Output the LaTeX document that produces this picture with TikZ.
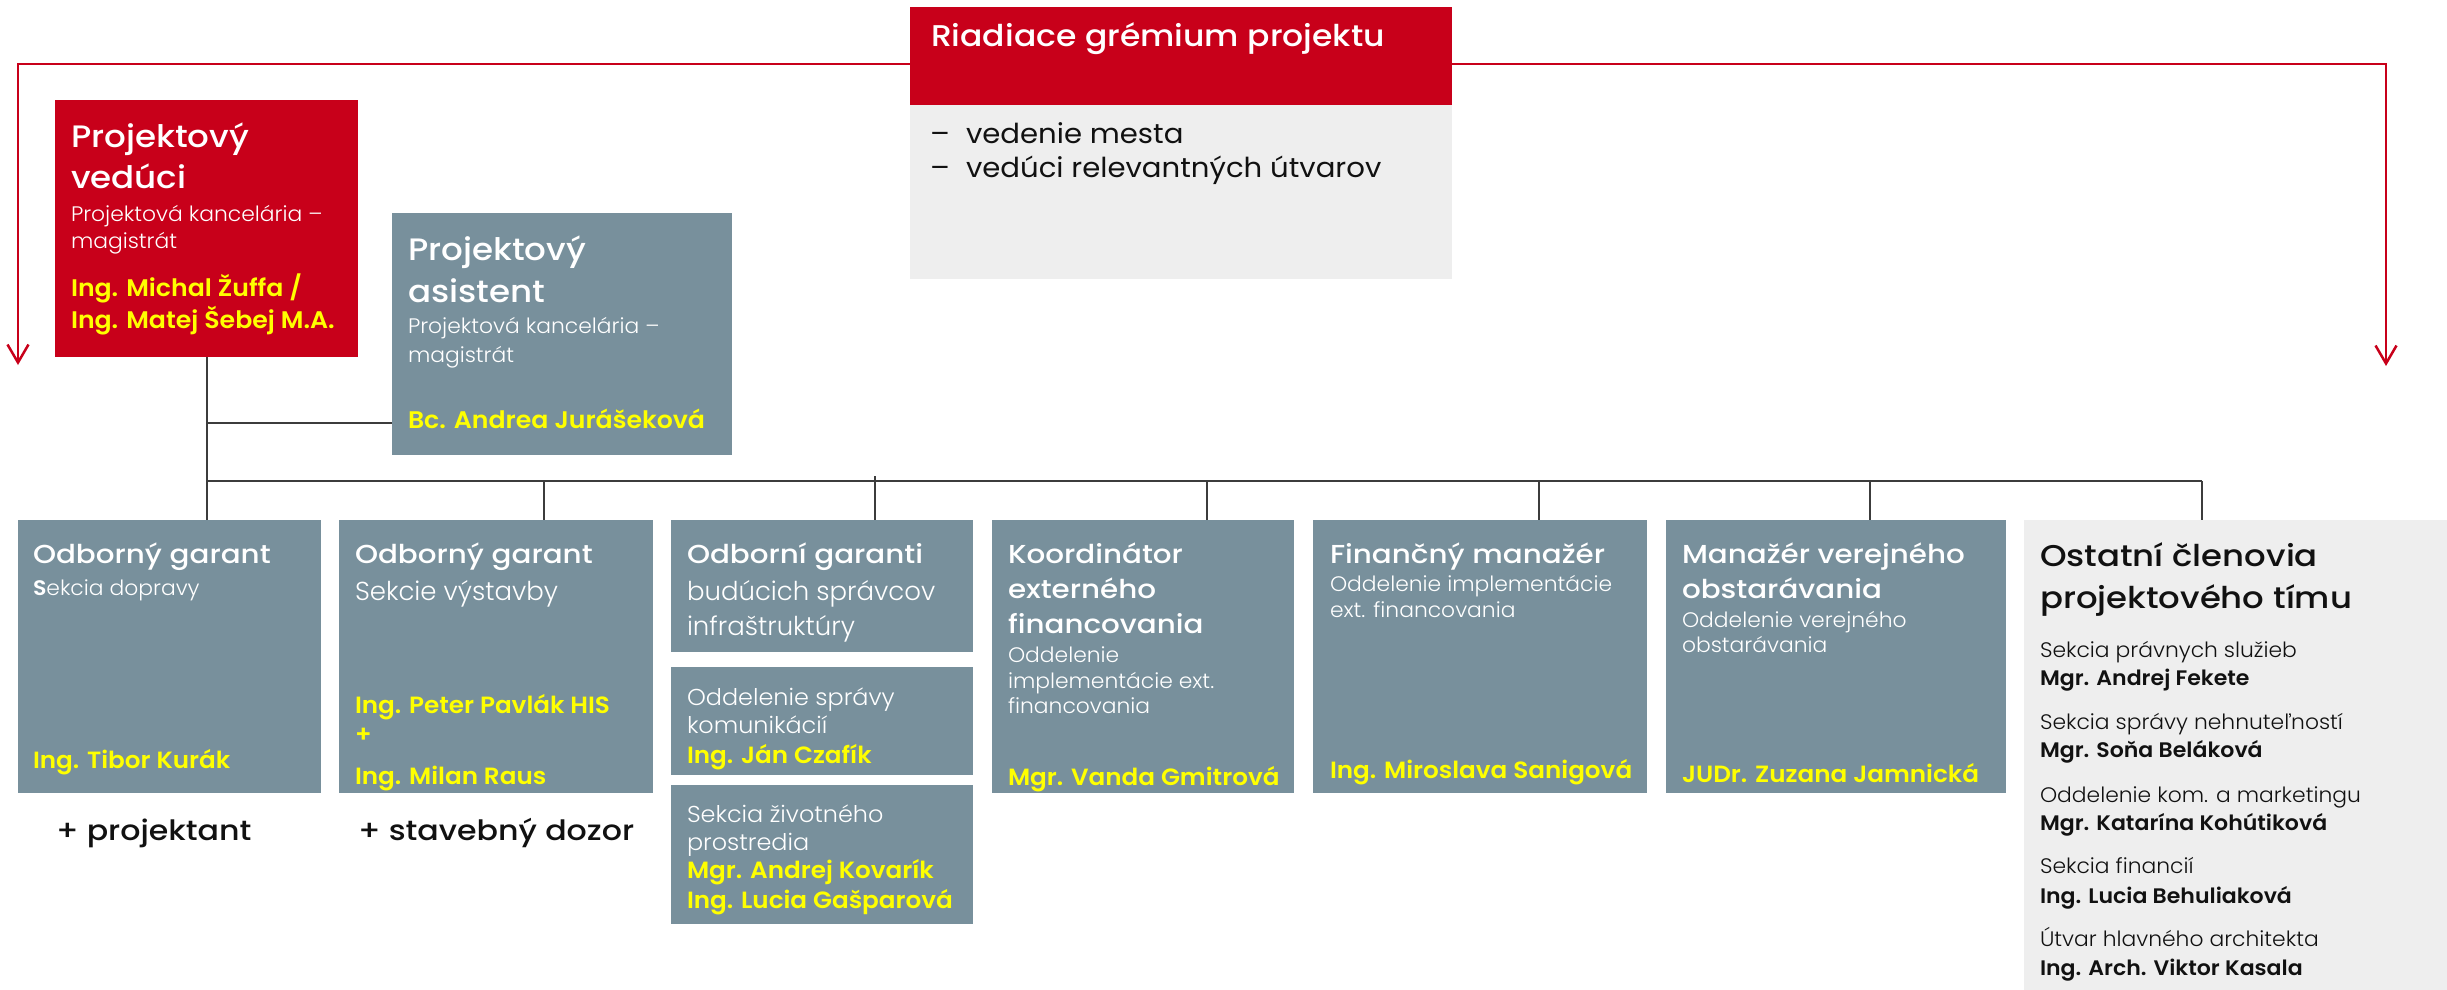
\documentclass[tikz,border=0pt]{standalone}
\usepackage{fontspec}
\setmainfont{Poppins}
\newfontfamily\fR{Poppins}[FakeStretch=1.06]
\newfontfamily\fL{Poppins Light}
\newfontfamily\fLs{Poppins Light}[FakeStretch=1.04]
\newfontfamily\fMs{Poppins Medium}[FakeStretch=1.13]
\newfontfamily\fMt{Poppins Medium}[FakeStretch=1.10]
\newfontfamily\fSs{Poppins SemiBold}[FakeStretch=1.05]
\usetikzlibrary{arrows.meta}
\definecolor{cred}{HTML}{C8001A}
\definecolor{cgrey}{HTML}{78909C}
\definecolor{clight}{HTML}{EEEEEE}
\definecolor{cyel}{HTML}{FFFF00}
\definecolor{cline}{HTML}{3C3C3C}
\definecolor{ctext}{HTML}{111111}
\begin{document}
\begin{tikzpicture}[x=1pt,y=-1pt,
  box/.style={anchor=north west,inner sep=0pt,outer sep=0pt,draw=none},
  txt/.style={anchor=base west,inner sep=0pt,outer sep=0pt},
  htitle/.style={txt,text=white,font=\fMt\fontsize{30}{36}\selectfont},
  hbig/.style={txt,text=white,font=\fMt\fontsize{31}{37}\selectfont},
  hmid/.style={txt,text=white,font=\fMs\fontsize{26}{31}\selectfont},
  sub21/.style={txt,text=white,font=\fLs\fontsize{21}{25}\selectfont},
  sub26/.style={txt,text=white,font=\fL\fontsize{26}{31}\selectfont},
  sub22/.style={txt,text=white,font=\fLs\fontsize{23}{27}\selectfont},
  sub20/.style={txt,text=white,font=\fLs\fontsize{21}{25}\selectfont},
  nm24/.style={txt,text=cyel,font=\fSs\fontsize{24}{29}\selectfont},
  nm22/.style={txt,text=cyel,font=\fSs\fontsize{23.5}{28}\selectfont},
  plus/.style={txt,text=ctext,font=\fMs\fontsize{28}{34}\selectfont},
  oh/.style={txt,text=ctext,font=\fMs\fontsize{30}{36}\selectfont},
  ol/.style={txt,text=ctext,font=\fLs\fontsize{21}{25}\selectfont},
  on/.style={txt,text=ctext,font=\fSs\fontsize{21}{25}\selectfont},
  bl/.style={txt,text=ctext,font=\fR\fontsize{27.5}{33}\selectfont},
  conn/.style={draw=cline,line width=2pt},
  rconn/.style={draw=cred,line width=2.5pt,-{Straight Barb[length=18pt,width=21pt,line width=2.5pt]}}
]
\useasboundingbox (0,0) rectangle (2447,990);

% ---------- boxes ----------
\node[box,fill=cred,minimum width=542pt,minimum height=98pt] (rg) at (910,7) {};
\node[box,fill=clight,minimum width=542pt,minimum height=174pt] (rgl) at (910,105) {};
\node[box,fill=cred,minimum width=303pt,minimum height=257pt] (pv) at (55,100) {};
\node[box,fill=cgrey,minimum width=340pt,minimum height=242pt] (pa) at (392,213) {};
\node[box,fill=cgrey,minimum width=303pt,minimum height=273pt] (b1) at (18,520) {};
\node[box,fill=cgrey,minimum width=314pt,minimum height=273pt] (b2) at (339,520) {};
\node[box,fill=cgrey,minimum width=302pt,minimum height=132pt] (b3a) at (671,520) {};
\node[box,fill=cgrey,minimum width=302pt,minimum height=108pt] (b3b) at (671,667) {};
\node[box,fill=cgrey,minimum width=302pt,minimum height=139pt] (b3c) at (671,785) {};
\node[box,fill=cgrey,minimum width=302pt,minimum height=273pt] (b4) at (992,520) {};
\node[box,fill=cgrey,minimum width=334pt,minimum height=273pt] (b5) at (1313,520) {};
\node[box,fill=cgrey,minimum width=340pt,minimum height=273pt] (b6) at (1666,520) {};
\node[box,fill=clight,minimum width=423pt,minimum height=470pt] (b7) at (2024,520) {};

% ---------- connectors ----------
\coordinate (ry) at (0,64);
\coordinate (aL) at (18,365);
\coordinate (aR) at (2386,366);
\draw[rconn] (rg.west |- ry) -- (aL |- ry) -- (aL);
\draw[rconn] (rg.east |- ry) -- (aR |- ry) -- (aR);

\coordinate (d1) at (207,481);
\coordinate (d2) at (544,481);
\coordinate (d3) at (875,481);
\coordinate (d3t) at (875,476);
\coordinate (d4) at (1207,481);
\coordinate (d5) at (1539,481);
\coordinate (d6) at (1870,481);
\coordinate (d7) at (2202,481);
\coordinate (br) at (207,423);
\draw[conn] (d1 |- pv.south) -- (d1 |- b1.north);
\draw[conn] (br) -- (br -| pa.west);
\draw[conn] (d1) -- (d7);
\draw[conn] (d2) -- (d2 |- b2.north);
\draw[conn] (d3t) -- (d3 |- b3a.north);
\draw[conn] (d4) -- (d4 |- b4.north);
\draw[conn] (d5) -- (d5 |- b5.north);
\draw[conn] (d6) -- (d6 |- b6.north);
\draw[conn] (d7) -- (d7 |- b7.north);

% ---------- texts ----------
\node[htitle] (t0) at (931,47) {Riadiace grémium projektu};
\node[bl] (t1a) at (930,143) {–};
\node[bl] (t1b) at (966,143) {vedenie mesta};
\node[bl] (t2a) at (930,177) {–};
\node[bl] (t2b) at (966,177) {vedúci relevantných útvarov};

\node[hbig] (pv1) at (71,147) {Projektový};
\node[hbig] (pv2) at (71,188) {vedúci};
\node[sub21] (pv3) at (71,221) {Projektová kancelária –};
\node[sub21] (pv4) at (71,248) {magistrát};
\node[nm24] (pv5) at (71,296) {Ing. Michal Žuffa /};
\node[nm24] (pv6) at (71,328) {Ing. Matej Šebej M.A.};

\node[hbig] (pa1) at (408,260) {Projektový};
\node[hbig] (pa2) at (408,302) {asistent};
\node[sub21] (pa3) at (408,333) {Projektová kancelária –};
\node[sub21] (pa4) at (408,362) {magistrát};
\node[nm24] (pa5) at (408,428) {Bc. Andrea Jurášeková};

\node[hmid] (b1t1) at (33,563) {Odborný garant};
\node[sub21] (b1t2) at (33,595) {{\fSs S}ekcia dopravy};
\node[nm22] (b1t3) at (33,768) {Ing. Tibor Kurák};
\node[plus] (p1) at (56,840) {+ projektant};

\node[hmid] (b2t1) at (355,563) {Odborný garant};
\node[sub26] (b2t2) at (355,600) {Sekcie výstavby};
\node[nm22] (b2t3) at (355,713) {Ing. Peter Pavlák HIS};
\node[nm22] (b2t4) at (355,742) {+};
\node[nm22] (b2t5) at (355,784) {Ing. Milan Raus};
\node[plus] (p2) at (358,840) {+ stavebný dozor};

\node[hmid] (b3t1) at (687,563) {Odborní garanti};
\node[sub26] (b3t2) at (687,600) {budúcich správcov};
\node[sub26] (b3t3) at (687,635) {infraštruktúry};
\node[sub22] (b3t4) at (687,705) {Oddelenie správy};
\node[sub22] (b3t5) at (687,733) {komunikácií};
\node[nm22] (b3t6) at (687,763) {Ing. Ján Czafík};
\node[sub22] (b3t7) at (687,822) {Sekcia životného};
\node[sub22] (b3t8) at (687,850) {prostredia};
\node[nm22] (b3t9) at (687,878) {Mgr. Andrej Kovarík};
\node[nm22] (b3t10) at (687,908) {Ing. Lucia Gašparová};

\node[hmid] (b4t1) at (1008,563) {Koordinátor};
\node[hmid] (b4t2) at (1008,598) {externého};
\node[hmid] (b4t3) at (1008,633) {financovania};
\node[sub20] (b4t4) at (1008,662) {Oddelenie};
\node[sub20] (b4t5) at (1008,688) {implementácie ext.};
\node[sub20] (b4t6) at (1008,713) {financovania};
\node[nm22] (b4t7) at (1008,785) {Mgr. Vanda Gmitrová};

\node[hmid] (b5t1) at (1330,563) {Finančný manažér};
\node[sub20] (b5t2) at (1330,591) {Oddelenie implementácie};
\node[sub20] (b5t3) at (1330,617) {ext. financovania};
\node[nm22] (b5t4) at (1330,778) {Ing. Miroslava Sanigová};

\node[hmid] (b6t1) at (1682,563) {Manažér verejného};
\node[hmid] (b6t2) at (1682,598) {obstarávania};
\node[sub20] (b6t3) at (1682,627) {Oddelenie verejného};
\node[sub20] (b6t4) at (1682,652) {obstarávania};
\node[nm22] (b6t5) at (1682,782) {JUDr. Zuzana Jamnická};

\node[oh] (b7t1) at (2040,566) {Ostatní členovia};
\node[oh] (b7t2) at (2040,608) {projektového tímu};
\node[ol] (b7t3) at (2040,657) {Sekcia právnych služieb};
\node[on] (b7t4) at (2040,685) {Mgr. Andrej Fekete};
\node[ol] (b7t5) at (2040,729) {Sekcia správy nehnuteľností};
\node[on] (b7t6) at (2040,757) {Mgr. Soňa Beláková};
\node[ol] (b7t7) at (2040,802) {Oddelenie kom. a marketingu};
\node[on] (b7t8) at (2040,830) {Mgr. Katarína Kohútiková};
\node[ol] (b7t9) at (2040,873) {Sekcia financií};
\node[on] (b7t10) at (2040,903) {Ing. Lucia Behuliaková};
\node[ol] (b7t11) at (2040,946) {Útvar hlavného architekta};
\node[on] (b7t12) at (2040,975) {Ing. Arch. Viktor Kasala};
\end{tikzpicture}
\end{document}
